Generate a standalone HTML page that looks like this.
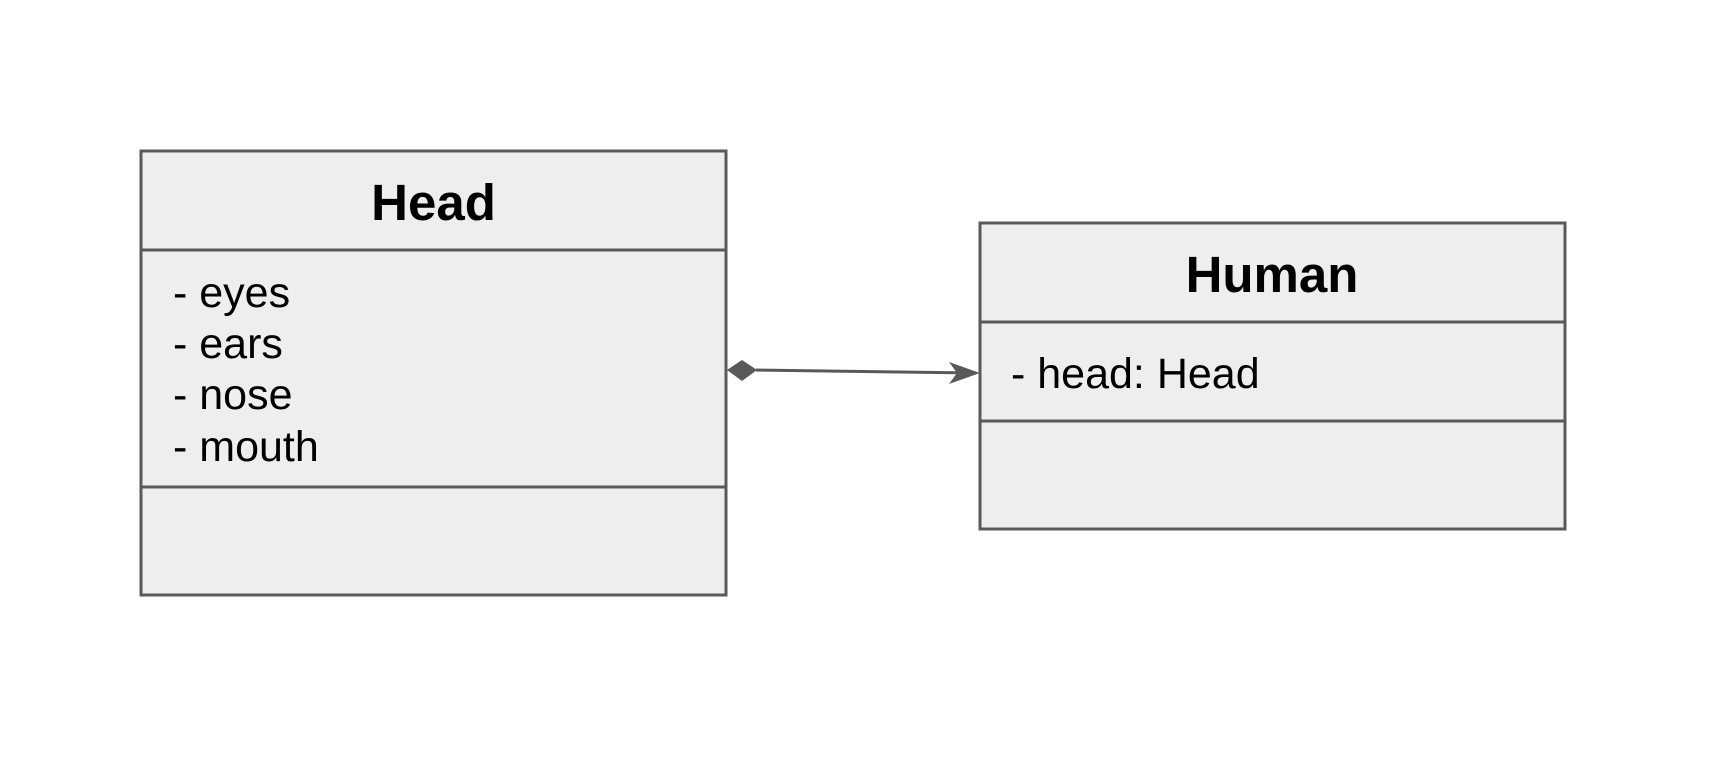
<!DOCTYPE html>
<html><head><meta charset="utf-8"><style>html,body{margin:0;padding:0;background:#fff;}</style></head>
<body>
<svg width="1726" height="773" viewBox="0 0 1726 773" xmlns="http://www.w3.org/2000/svg" style="display:block">
<g stroke="#595959" stroke-width="3" fill="#eeeeee">
<rect x="141" y="151" width="585" height="444"/>
<line x1="141" y1="250" x2="726" y2="250"/>
<line x1="141" y1="487" x2="726" y2="487"/>
<rect x="980" y="223" width="585" height="306"/>
<line x1="980" y1="322" x2="1565" y2="322"/>
<line x1="980" y1="421" x2="1565" y2="421"/>
</g>
<g font-family="Liberation Sans, sans-serif" fill="#000">
<text x="433.5" y="220" font-size="51" font-weight="bold" text-anchor="middle">Head</text>
<text x="1272" y="292" font-size="51" font-weight="bold" text-anchor="middle">Human</text>
<g font-size="43">
<text x="173" y="307">- eyes</text>
<text x="173" y="358">- ears</text>
<text x="173" y="409">- nose</text>
<text x="173" y="461">- mouth</text>
<text x="1011" y="388">- head: Head</text>
</g>
</g>
<line x1="756" y1="370" x2="976" y2="373" stroke="#595959" stroke-width="3"/>
<polygon points="727,370 742,360 757,370 742,381" fill="#595959"/>
<polygon points="980,373 949,362 957,373 949,384" fill="#595959"/>
</svg>
</body></html>
